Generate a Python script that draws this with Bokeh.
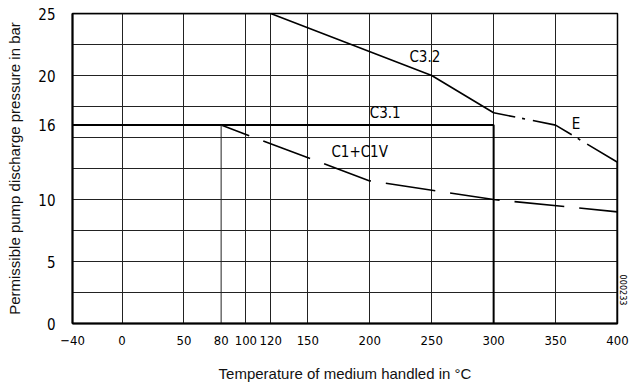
from bokeh.plotting import figure
from bokeh.models import Range1d, FixedTicker, Title
from bokeh.core.properties import value
from bokeh.embed import file_html
from bokeh.resources import INLINE

# ---- data ----
x_ticks = [-40, 0, 50, 80, 100, 120, 150, 200, 250, 300, 350, 400]
y_ticks = [0, 5, 10, 16, 20, 25]
x_grid = [0, 50, 100, 120, 150, 200, 250, 300, 350]
y_grid = [2.5, 5, 7.5, 10, 12.5, 15, 17.5, 20, 22.5]

c32_t = [-40, 120, 250, 300]
c32_p = [25, 25, 20, 17]

c31_t = [-40, 300, 300]
c31_p = [16, 16, 0]

e_t = [300, 350, 400]
e_p = [17, 16, 13]
e_end_t = [400, 400]
e_end_p = [13, 0]

c1_t = [80, 200, 300, 400]
c1_p = [16, 11.5, 10, 9]
c1_start_t = [80, 80]
c1_start_p = [16, 0]

label_text = ["C3.2", "C3.1", "E", "C1+C1V"]
label_t = [232, 200, 363, 169]
label_p = [21.5, 17.0, 16.1, 13.85]

TECH = "DejaVu Sans Condensed"

p = figure(width=632, height=389, output_backend="svg", toolbar_location=None,
           x_range=Range1d(-40, 400), y_range=Range1d(0, 25),
           min_border_left=72, min_border_right=15, min_border_top=13,
           min_border_bottom=66)
p.background_fill_color = "white"
p.border_fill_color = "white"
p.outline_line_color = "black"
p.outline_line_width = 1.5

# grid
p.xgrid.ticker = FixedTicker(ticks=x_grid)
p.ygrid.ticker = FixedTicker(ticks=y_grid)
for g in (p.xgrid, p.ygrid):
    g.grid_line_color = "#222222"
    g.grid_line_width = 1
    g.grid_line_alpha = 1

# axes
p.xaxis.ticker = FixedTicker(ticks=x_ticks)
p.yaxis.ticker = FixedTicker(ticks=y_ticks)
for ax in (p.xaxis, p.yaxis):
    ax.major_tick_line_color = None
    ax.minor_tick_line_color = None
    ax.axis_line_color = "black"
    ax.axis_line_width = 2
    ax.major_label_text_font = TECH
    ax.major_label_text_color = "black"
    ax.axis_label_text_font = "Liberation Sans"
    ax.axis_label_text_font_size = "15px"
    ax.axis_label_text_font_style = "normal"
    ax.axis_label_text_color = "#111111"
p.xaxis.major_label_text_font_size = "13px"
p.yaxis.major_label_text_font_size = "15px"
p.xaxis.major_label_standoff = 6
p.yaxis.major_label_standoff = 11
p.xaxis.axis_label = "Temperature of medium handled in °C"
p.yaxis.axis_label = "Permissible pump discharge pressure in bar"
p.xaxis.axis_label_standoff = 17
p.yaxis.axis_label_standoff = 12

# curves
p.line(c32_t, c32_p, line_color="black", line_width=1.6)
p.line(c31_t, c31_p, line_color="black", line_width=2)
p.line(e_t, e_p, line_color="black", line_width=1.6,
       line_dash="42 7 3 8", line_dash_offset=20)
p.line(e_end_t, e_end_p, line_color="black", line_width=2.2)
p.line(c1_t, c1_p, line_color="black", line_width=1.6,
       line_dash="50 15", line_dash_offset=20)
p.line(c1_start_t, c1_start_p, line_color="#222222", line_width=1)

p.text(x=label_t, y=label_p, text=label_text, text_font=value(TECH),
       text_font_size="15px", text_align="left", text_baseline="middle",
       text_color="black")

p.add_layout(Title(text="000233", text_font=TECH, text_font_size="9px",
                   text_font_style="normal", align="right", offset=18,
                   standoff=5, text_color="black"), "right")

open("out.html", "w").write(file_html(p, INLINE))
